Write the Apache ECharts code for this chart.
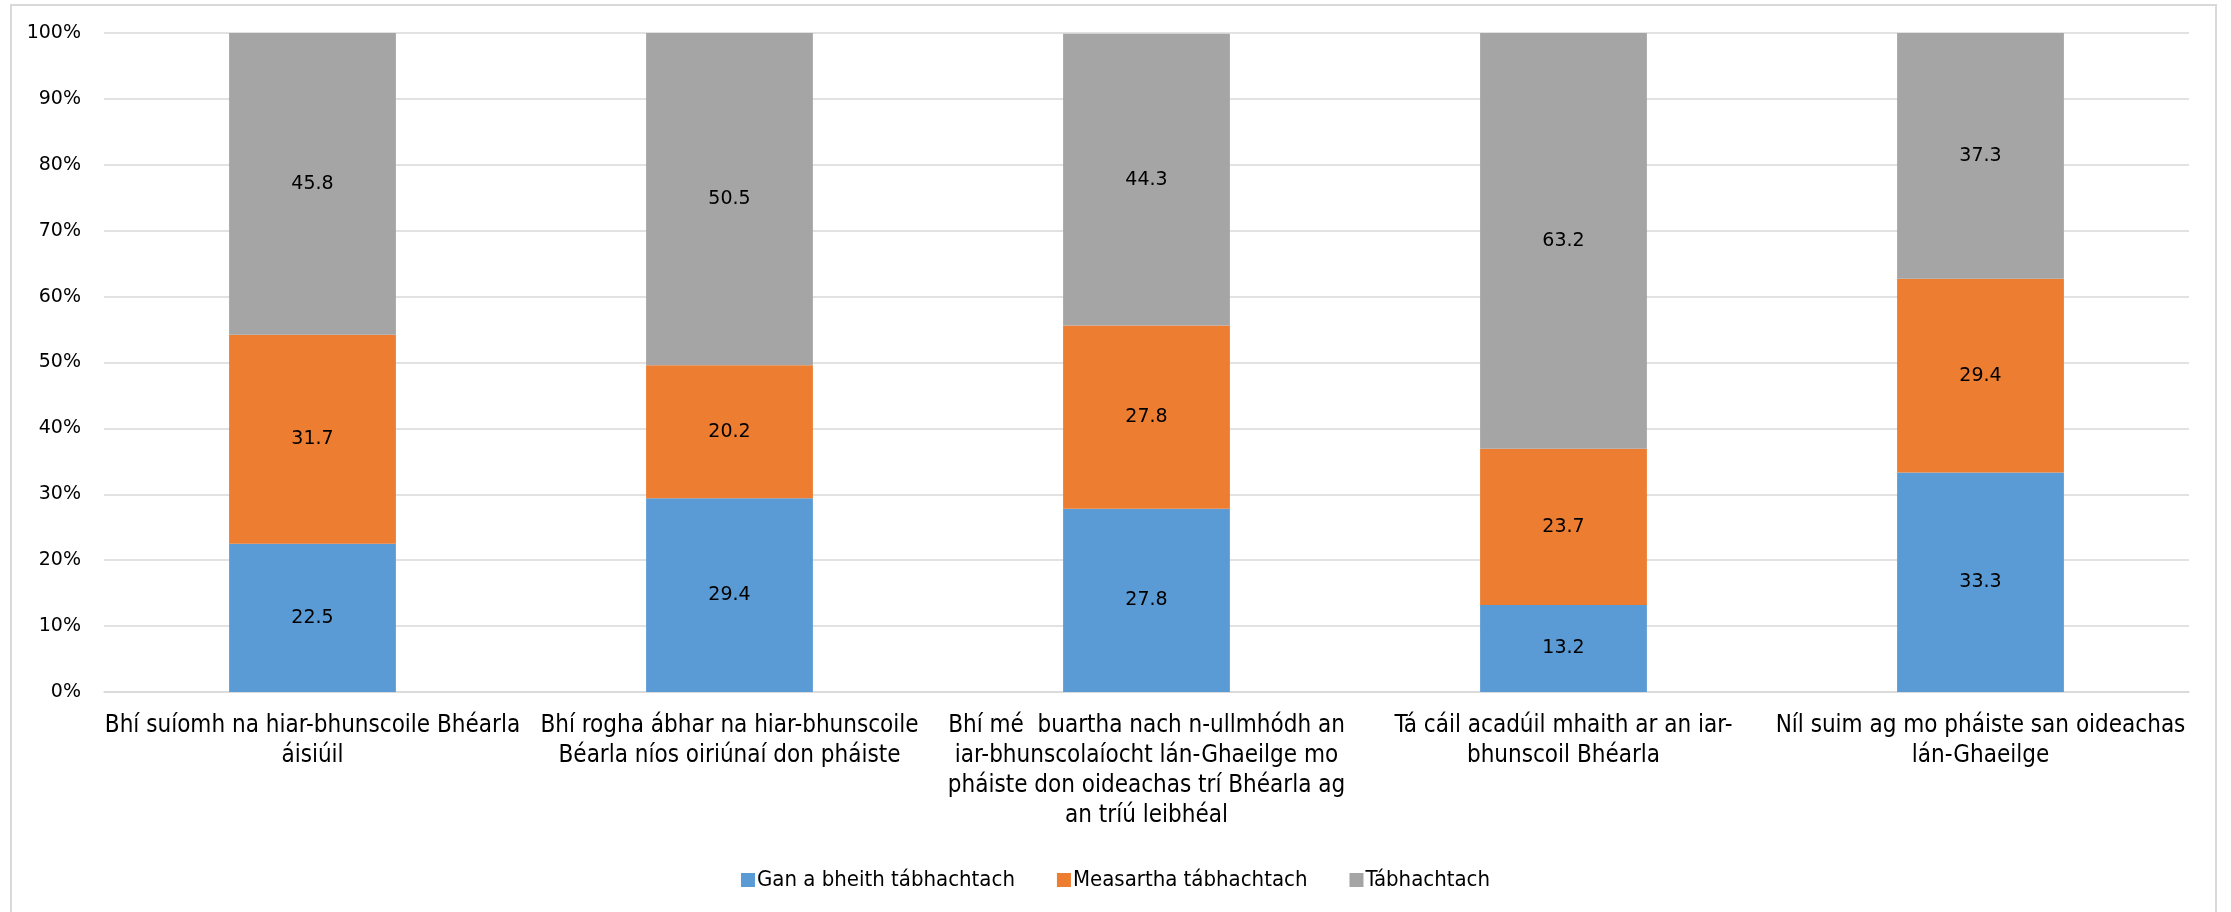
<!DOCTYPE html>
<html>
<head>
<meta charset="utf-8">
<script src="https://cdn.jsdelivr.net/npm/echarts@6/dist/echarts.min.js"></script>
<style>
html,body{margin:0;padding:0;width:2231px;height:912px;overflow:hidden;background:#fff;}
#frame{position:absolute;left:10px;top:4px;width:2207px;height:1000px;border:2px solid #d9d9d9;box-sizing:border-box;}
#chart{position:absolute;left:0;top:0;width:2231px;height:912px;}
</style>
</head>
<body>
<div id="frame"></div>
<div id="chart"></div>
<script>
const categories = [
  "Bhí suíomh na hiar-bhunscoile Bhéarla\náisiúil",
  "Bhí rogha ábhar na hiar-bhunscoile\nBéarla níos oiriúnaí don pháiste",
  "Bhí mé  buartha nach n-ullmhódh an\niar-bhunscolaíocht lán-Ghaeilge mo\npháiste don oideachas trí Bhéarla ag\nan tríú leibhéal",
  "Tá cáil acadúil mhaith ar an iar-\nbhunscoil Bhéarla",
  "Níl suim ag mo pháiste san oideachas\nlán-Ghaeilge"
];
const seriesNames = ["Gan a bheith tábhachtach", "Measartha tábhachtach", "Tábhachtach"];
const ganABheith = [22.5, 29.4, 27.8, 13.2, 33.3];
const measartha = [31.7, 20.2, 27.8, 23.7, 29.4];
const tabhachtach = [45.8, 50.5, 44.3, 63.2, 37.3];
const yTicks = [0, 10, 20, 30, 40, 50, 60, 70, 80, 90, 100];
const colors = ["#5B9BD5", "#ED7D31", "#A5A5A5"];

const narrowFont = "'DejaVu Sans Condensed', Roboto, 'Noto Sans', sans-serif";
const chart = echarts.init(document.getElementById('chart'), null, {renderer: 'canvas'});
const labelStyle = {
  show: true, position: 'inside', color: '#000',
  fontFamily: 'DejaVu Sans', fontSize: 19,
  formatter: p => p.value.toFixed(1)
};
function mk(name, data, color) {
  return {
    name, type: 'bar', stack: 'total', data,
    barCategoryGap: '60%',
    itemStyle: {color},
    label: labelStyle,
    emphasis: {disabled: true}
  };
}
chart.setOption({
  animation: false,
  color: colors,
  grid: {left: 104, right: 42, top: 33, bottom: 220, containLabel: false},
  legend: {
    bottom: 16, left: 'center',
    itemWidth: 14, itemHeight: 14, itemGap: 42,
    icon: 'rect',
    textStyle: {fontFamily: narrowFont, fontSize: 22, color: '#000', padding: [0,0,0,-3]},
    data: seriesNames
  },
  xAxis: {
    type: 'category', data: categories,
    axisLine: {lineStyle: {color: '#d9d9d9', width: 1.5}},
    axisTick: {show: false},
    axisLabel: {
      interval: 0, margin: 19, color: '#000',
      fontFamily: narrowFont, fontSize: 24, lineHeight: 30, align: 'center'
    }
  },
  yAxis: {
    type: 'value', min: 0, max: 100, interval: 10,
    axisLine: {show: false}, axisTick: {show: false},
    splitLine: {lineStyle: {color: '#d9d9d9', width: 1.5}},
    axisLabel: {
      margin: 23, color: '#000', fontFamily: 'DejaVu Sans', fontSize: 19,
      formatter: v => yTicks.includes(v) ? v + '%' : ''
    }
  },
  series: [
    mk(seriesNames[0], ganABheith, colors[0]),
    mk(seriesNames[1], measartha, colors[1]),
    mk(seriesNames[2], tabhachtach, colors[2])
  ]
});
</script>
</body>
</html>
